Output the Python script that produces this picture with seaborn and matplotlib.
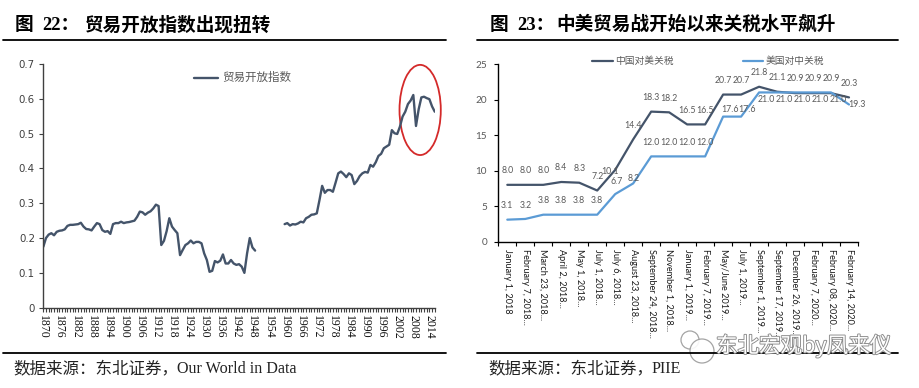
import numpy as np
import pandas as pd
import matplotlib
matplotlib.use("Agg")
import matplotlib.pyplot as plt
import seaborn as sns
from matplotlib.patches import Ellipse, Circle
from matplotlib.lines import Line2D
import matplotlib.patheffects as pe

sns.set_theme(style="white")
plt.rcParams['font.family'] = ['DejaVu Sans', 'Noto Sans CJK SC']

# ---------------- data ----------------
years_a = list(range(1870, 1950))
openness_a = [0.175, 0.200, 0.210, 0.214, 0.208, 0.218, 0.221, 0.222, 0.225, 0.235,
              0.238, 0.238, 0.239, 0.240, 0.244, 0.233, 0.226, 0.225, 0.222, 0.233,
              0.243, 0.240, 0.223, 0.218, 0.220, 0.212, 0.240, 0.243, 0.243, 0.247,
              0.243, 0.245, 0.246, 0.248, 0.250, 0.261, 0.276, 0.274, 0.267, 0.273,
              0.277, 0.285, 0.296, 0.292, 0.180, 0.192, 0.220, 0.257, 0.233, 0.223,
              0.214, 0.151, 0.166, 0.180, 0.185, 0.193, 0.185, 0.189, 0.189, 0.185,
              0.156, 0.137, 0.103, 0.106, 0.134, 0.130, 0.135, 0.153, 0.127, 0.127,
              0.137, 0.127, 0.123, 0.125, 0.118, 0.100, 0.156, 0.200, 0.173, 0.164]
years_b = list(range(1960, 2017))
openness_b = [0.240, 0.243, 0.236, 0.240, 0.239, 0.242, 0.247, 0.245, 0.257, 0.261,
              0.267, 0.268, 0.271, 0.309, 0.350, 0.330, 0.338, 0.338, 0.333, 0.359,
              0.386, 0.391, 0.384, 0.375, 0.386, 0.381, 0.355, 0.364, 0.378, 0.386,
              0.390, 0.388, 0.410, 0.405, 0.418, 0.436, 0.442, 0.458, 0.463, 0.468,
              0.510, 0.501, 0.499, 0.520, 0.549, 0.563, 0.585, 0.595, 0.611, 0.522,
              0.570, 0.604, 0.606, 0.602, 0.599, 0.578, 0.563]
year_ticks = list(range(1870, 2015, 6))
left_yticks = [0, 0.1, 0.2, 0.3, 0.4, 0.5, 0.6, 0.7]
left_series = "贸易开放指数"

dates = ["January 1, 2018", "February 7, 2018...", "March 23, 2018...", "April 2, 2018...",
         "May 1, 2018...", "July 1, 2018...", "July 6, 2018...", "August 23, 2018...",
         "September 24, 2018...", "November 1, 2018...", "January 1, 2019...",
         "February 7, 2019...", "May/June 2019...", "July 1, 2019...",
         "September 1, 2019...", "September 17, 2019...", "December 26, 2019...",
         "February 7, 2020...", "February 08, 2020...", "February 14, 2020..."]
china_tariff = [8.0, 8.0, 8.0, 8.4, 8.3, 7.2, 10.1, 14.4, 18.3, 18.2,
                16.5, 16.5, 20.7, 20.7, 21.8, 21.1, 20.9, 20.9, 20.9, 20.3]
us_tariff = [3.1, 3.2, 3.8, 3.8, 3.8, 3.8, 6.7, 8.2, 12.0, 12.0,
             12.0, 12.0, 17.6, 17.6, 21.0, 21.0, 21.0, 21.0, 21.0, 19.3]
right_yticks = [0, 5, 10, 15, 20, 25]
cn_name = "中国对美关税"
us_name = "美国对中关税"

title_l = ("图", "22：", "贸易开放指数出现扭转")
title_r = ("图", "23：", "中美贸易战开始以来关税水平飙升")
src_l = ("数据来源：东北证券，", "Our World in Data")
src_r = ("数据来源：东北证券，", "PIIE")
watermark = "东北宏观by凤来仪"

# ---------------- styles ----------------
DARK = "#44546A"
BLUE = "#5B9BD5"
GRAY = "#595959"
W, H = 919, 388
CJK = ["Noto Sans CJK SC"]
MIX = ["Liberation Serif", "Noto Sans CJK SC"]

def fxy(px, py):
    return px / W, 1 - py / H

fig = plt.figure(figsize=(W / 100, H / 100), dpi=100)
fig.patch.set_facecolor("white")

axL = fig.add_axes([43.3 / W, (H - 307.7) / H, (435.3 - 43.3) / W, (307.7 - 64) / H])
axR = fig.add_axes([498.3 / W, (H - 241.7) / H, (858 - 498.3) / W, (241.7 - 64) / H])

# ---------- left chart ----------
dfA = pd.DataFrame({"year": years_a, "value": openness_a})
dfB = pd.DataFrame({"year": years_b, "value": openness_b})
sns.lineplot(data=dfA, x="year", y="value", ax=axL, color=DARK, lw=1.7)
sns.lineplot(data=dfB, x="year", y="value", ax=axL, color=DARK, lw=1.7)
axL.set_xlabel("")
axL.set_ylabel("")
axL.set_xlim(1870, 2016.2)
axL.set_ylim(0, 0.7)
axL.set_yticks(left_yticks)
axL.set_yticklabels(["0" if v == 0 else f"{v:.1f}" for v in left_yticks],
                    fontsize=7.4, color="#404040", family="DejaVu Sans")
axL.set_xticks(year_ticks)
axL.set_xticks(np.arange(1870, 2017, 1), minor=True)
axL.set_xticklabels([str(y) for y in year_ticks], rotation=270, fontsize=8.5,
                    family="Liberation Serif", color="#111111", va="top", ha="center")
axL.tick_params(axis="x", which="both", bottom=True, length=3, width=0.8,
                color="#404040", direction="out", pad=2)
axL.tick_params(axis="y", left=True, length=3, width=0.8, color="#404040", pad=3)
for s in ["top", "right"]:
    axL.spines[s].set_visible(False)
for s in ["left", "bottom"]:
    axL.spines[s].set_color("#404040")
    axL.spines[s].set_linewidth(1.0)
axL.grid(False)

ell = Ellipse((2010.55, 0.568), width=15.4, height=0.259, fill=False,
              ec="#D42A2A", lw=1.3, clip_on=False)
axL.add_patch(ell)

# left legend
x0, y0 = fxy(194, 77.7)
x1, _ = fxy(218, 77.7)
fig.add_artist(Line2D([x0, x1], [y0, y0], color=DARK, lw=1.7, transform=fig.transFigure))
tx, ty = fxy(222, 77.7)
fig.text(tx, ty, left_series, fontsize=8.3, color=GRAY, va="center", ha="left", family=CJK)

# ---------- right chart ----------
pos = np.arange(len(dates))
dfR = pd.DataFrame({"pos": np.concatenate([pos, pos]),
                    "tariff": china_tariff + us_tariff,
                    "series": [cn_name] * len(pos) + [us_name] * len(pos)})
sns.lineplot(data=dfR, x="pos", y="tariff", hue="series", ax=axR,
             palette={cn_name: DARK, us_name: BLUE}, lw=1.6, legend=False)
axR.set_xlabel("")
axR.set_ylabel("")
axR.set_xlim(-0.5, len(dates) - 0.5)
axR.set_ylim(0, 25)
axR.set_yticks(right_yticks)
axR.set_yticklabels([str(v) for v in right_yticks], fontsize=7.2, color=GRAY, family="Lato")
axR.set_xticks(pos)
axR.set_xticklabels(dates, rotation=270, fontsize=6.6, family="Lato", color="#1a1a1a",
                    va="top", ha="center")
axR.set_xticks(np.arange(-0.5, len(dates), 1), minor=True)
axR.tick_params(axis="x", which="major", bottom=True, length=0, pad=5)
axR.tick_params(axis="x", which="minor", bottom=True, length=3, width=0.8, color="black")
axR.tick_params(axis="y", left=True, length=3, width=0.8, color="black", pad=5)
for s in ["top", "right"]:
    axR.spines[s].set_visible(False)
for s in ["left", "bottom"]:
    axR.spines[s].set_color("black")
    axR.spines[s].set_linewidth(1.0)
axR.grid(False)

cn_off = [(0, 10.3)] * 6 + [(-4, -1.0)] + [(0, 10.3)] * 13
us_off = ([(0, 10.0)] * 6 + [(1, 9.2), (0, 3.7)] + [(0, 10.3)] * 4 + [(5, 4.8), (4, 4.8)]
          + [(5, -5.4)] * 5 + [(6, 0)])
for i, v in enumerate(china_tariff):
    axR.annotate(f"{v:.1f}", (pos[i], v), xytext=cn_off[i], textcoords="offset points",
                 ha="center", va="center", fontsize=6.3, color=GRAY, family="Lato")
for i, v in enumerate(us_tariff):
    axR.annotate(f"{v:.1f}", (pos[i], v), xytext=us_off[i], textcoords="offset points",
                 ha="center", va="center", fontsize=6.3, color=GRAY, family="Lato")

# right legend
for (lx0, lx1, tx0, name, col) in [(591.7, 612.7, 615, cn_name, DARK),
                                   (743, 763, 766, us_name, BLUE)]:
    a, b = fxy(lx0, 61)
    c, _ = fxy(lx1, 61)
    fig.add_artist(Line2D([a, c], [b, b], color=col, lw=1.6, transform=fig.transFigure))
    t1, t2 = fxy(tx0, 61)
    fig.text(t1, t2, name, fontsize=7, color=GRAY, va="center", ha="left", family=CJK)

# ---------- titles, rules, sources ----------
for (xs, parts) in [((15, 42.7, 85), title_l), ((489.3, 517.3, 556.7), title_r)]:
    for x, t in zip(xs, parts):
        a, b = fxy(x, 25)
        fig.text(a, b, t, fontsize=13.4, fontweight="bold", color="black", va="center",
                 ha="left", family=MIX)
for (xa, xb) in [(3, 445.7), (477.3, 898.3)]:
    for yy in [40, 353]:
        a, b = fxy(xa, yy)
        c, _ = fxy(xb, yy)
        fig.add_artist(Line2D([a, c], [b, b], color="black", lw=1.3,
                              transform=fig.transFigure))
for (xs, parts) in [((13, 177), src_l), ((488.3, 651.7), src_r)]:
    a, b = fxy(xs[0], 369)
    fig.text(a, b, parts[0], fontsize=11.9, color="#222222", va="center", ha="left",
             family=CJK)
    a, b = fxy(xs[1], 369)
    fig.text(a, b, parts[1], fontsize=11.6, color="#222222", va="center", ha="left",
             family=MIX)

# ---------- watermark ----------
for (cx, cy, r) in [(690, 340, 9), (702, 351, 12)]:
    circ = Circle((cx, H - cy), r, transform=None, fc="white", ec="#9a9a9a", lw=0.9,
                  alpha=0.9)
    fig.add_artist(circ)
a, b = fxy(716, 346)
fig.text(a, b, watermark, fontsize=15.5, color="white", va="center", ha="left",
         family=CJK,
         path_effects=[pe.Stroke(linewidth=1.3, foreground="#8a8a8a"), pe.Normal()])

fig.savefig("out.png", dpi=100, facecolor="white")
